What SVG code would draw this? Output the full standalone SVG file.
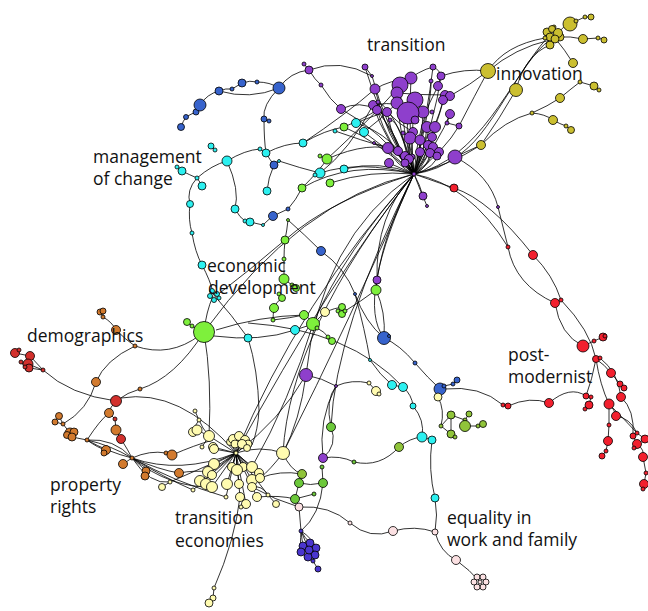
<svg xmlns="http://www.w3.org/2000/svg" width="648" height="611" viewBox="0 0 648 611">
<style>
.e{fill:none;stroke:#000;stroke-width:0.8}
circle{stroke:#000;stroke-width:0.8}
.p{fill:#8e3fcc}.g{fill:#cbbf30}.r{fill:#f2202e}.dr{fill:#d2302c}.b{fill:#3763cc}.c{fill:#2cf0f0}
.lg{fill:#7ef03c}.mg{fill:#6cc83a}.og{fill:#90c43a}.o{fill:#d27a2e}.y{fill:#fffbb0}.pk{fill:#fbe0e2}.ind{fill:#4a35cf}
text{font-family:"Open Sans","Noto Sans","Liberation Sans",sans-serif;font-size:17.5px;fill:#111}
</style>
<rect width="648" height="611" fill="#fff"/>
<g id="connectors">
<path class="e" d="M181 127 Q183 121 186 117 Q191 114 196 112 L200 105 Q207 94 219 91 Q226 88 232 89 Q237 86 242 83 Q250 80 257 82 Q270 82 279 88 M219 91 Q250 100 279 88 M279 88 Q290 72 309 70 L304 64 M309 70 Q340 58 372 76 M309 70 Q315 80 321 85 Q330 100 341 109 M341 109 Q360 100 377 110 M341 109 Q380 130 414 174 M279 88 Q262 105 264 119 Q264 140 266 153 M264 119 L269 121 M211 146 L215 150 M177 167 L182 171 Q190 175 197 178 Q200 182 202 186 M197 178 Q186 190 190 204 Q188 220 192 233 Q195 252 202 265 M197 178 Q212 165 227 161 Q245 150 260 149 L266 153 Q285 143 303 143 Q325 130 344 127 M266 153 Q270 160 274 165 L279 161 M274 165 Q268 178 267 191 M279 161 Q300 168 320 173 M227 161 Q240 190 235 209 Q240 218 245 221 L250 222 L263 225 Q268 220 273 216 L288 209 Q296 200 302 188 Q320 170 327 159 L320 156 M288 220 Q287 230 285 240 Q284 250 284 259 Q284 270 284 279 L292 285 L296 288 M279 294 L282 298 Q276 302 274 308 Q273 315 273 320 Q290 318 304 315 Q310 318 313 324 L317 328 M288 220 Q305 235 321 251 Q345 268 355 294 Q365 322 384 338 L389 336 M384 338 Q400 345 415 363 Q428 378 440 389 L444 386 L453 384 L457 380 M444 389 Q480 385 503 405 L508 406 Q530 396 549 403 Q570 385 586 396"/>
<path class="e" d="M344 127 Q365 118 377 110 M356 123 Q375 115 387 112 M364 132 Q380 120 397 103 M335 131 Q360 140 388 148 M327 159 Q370 140 398 151 M320 173 Q360 160 414 174 M344 169 Q380 160 414 174 M330 183 Q370 170 414 174 M302 188 Q350 160 414 174 M327 159 Q380 110 400 85 M344 127 Q375 140 414 174 M303 143 Q345 115 375 89 M374 143 L388 148 M389 163 L414 174 M364 132 Q390 150 414 174 M356 123 Q395 135 414 174 M320 173 Q350 150 373 105"/>
<path class="e" d="M414 174 Q402 130 400 85 M414 174 Q408 128 411 78 M414 174 Q410 140 415 100 M414 174 Q405 145 408 113 M414 174 Q398 135 397 93 M414 174 Q385 135 375 89 M414 174 Q393 145 387 112 M414 174 Q388 145 377 110 M414 174 Q384 140 373 105 M414 174 Q422 145 423 112 M414 174 Q425 150 427 127 M414 174 Q430 150 435 127 M414 174 Q408 155 410 138 M414 174 Q420 160 420 140 M414 174 Q430 160 432 137 M414 174 Q425 162 428 145 M414 174 Q432 165 433 147 M414 174 Q395 165 388 148 M414 174 Q402 165 398 151 M414 174 Q420 165 420 152 M414 174 Q428 168 430 153 M414 174 Q436 168 439 152 M414 174 Q440 170 455 157 M414 174 Q405 168 405 156 M414 174 Q412 166 409 159 M414 174 Q435 130 445 95 M414 174 Q440 140 450 114 M414 174 Q445 150 459 126 M414 174 Q435 120 441 76 M414 174 Q428 110 433 67 M414 174 Q380 120 365 67 M414 174 Q385 125 372 76 M414 174 Q420 185 423 196 M414 174 Q445 185 454 188 M414 174 Q420 190 427 206 M414 174 Q418 120 438 86 M414 174 Q400 120 390 120 M414 174 Q396 110 378 102 M414 174 Q410 135 403 133 M414 174 Q440 120 443 100 M414 174 Q432 100 431 81 M375 89 Q390 80 411 78 M400 85 Q420 70 433 67 M397 93 Q420 95 445 95 M387 112 Q400 125 413 132 M373 105 Q400 100 423 112 M433 67 Q440 70 441 76 L438 86 M445 95 L450 96 M450 114 L447 123 L459 126 M365 67 L372 76 M377 110 Q400 140 405 163 M388 148 Q400 160 412 157"/>
<path class="e" d="M441 76 Q465 68 488 71 M450 96 Q470 85 488 71 M459 126 Q475 95 488 71 M455 157 Q470 150 481 145 M414 174 Q450 165 481 145 M481 145 Q500 118 516 90 M481 145 Q505 120 532 113 M488 71 Q505 45 545 38 M488 71 Q515 48 550 40 M414 174 C480 160 510 80 547 38 M455 157 C490 140 520 60 550 40 M516 90 Q525 55 550 45 M532 113 Q548 106 560 98 Q572 88 580 82 L594 86 L599 90 M532 113 Q545 114 553 120 Q560 124 566 126 L571 130 M555 38 Q565 50 573 63 M558 37 Q570 36 583 39 L598 38 L604 40 M558 33 Q563 26 570 24 L576 21 L585 17 L591 17"/>
<path class="e" d="M455 157 Q490 175 498 207 M414 174 Q470 185 508 247 M454 188 Q490 200 533 255 M498 207 L508 247 Q515 285 555 303 M533 255 Q553 275 561 300 M555 303 Q560 335 583 346 M561 300 Q590 330 596 359 M583 346 L594 341 L603 337 L605 336 M596 359 L600 358 M596 359 Q605 365 611 373 L620 384 L624 388 M600 358 Q618 372 621 397 M596 359 Q592 380 586 396 M596 359 Q600 385 609 404 M586 396 L591 397 L589 405 L585 409 M609 404 Q615 410 616 416 Q630 418 637 433 L645 439 M621 397 Q635 410 633 436 L637 444 L634 448 M637 444 Q645 450 643 457 L646 473 L644 484 L643 488 M609 404 L609 425 L608 441 L606 451 L602 456 M609 404 Q625 420 637 433"/>
<path class="e" d="M376 290 L377 280 M376 290 Q360 302 345 311 M342 307 L338 311 L342 314 L345 311 M325 312 Q335 308 342 307 M313 324 L325 312 M328 337 L332 341 M317 328 Q325 332 328 337 M376 290 Q386 312 384 338 M248 338 Q258 370 259 410 Q258 430 252 445 M213 294 Q232 315 248 338 M216 330 Q260 316 304 315 M214 336 Q260 342 295 330 L313 324 M248 323 Q350 330 403 387 M355 294 Q365 330 370 360 Q380 375 392 385 L403 387 Q412 395 413 406 M369 383 L376 391 L379 394 M336 386 Q352 379 369 383 M306 375 Q322 378 336 386 M336 386 Q318 420 323 458 M331 427 Q338 445 323 458 M331 427 Q325 400 336 386 M323 458 Q340 455 354 462 Q380 468 399 447 Q410 438 422 437 M413 406 Q425 420 422 437 L432 440 M432 440 Q428 470 435 498 Q438 515 435 532 Q440 552 456 560 Q470 570 480 582 M299 507 Q330 505 350 523 Q370 540 393 531 Q415 525 435 532 M438 397 Q445 410 441 426 L451 415 L465 420 L469 414 M451 415 L451 434 L455 437 M465 426 L478 426 L483 424 M441 426 L451 434 M465 420 L465 426"/>
<path class="e" d="M414 174 Q335 330 331 427 M414 174 Q380 240 376 290 M414 174 Q375 215 377 280 M414 174 Q355 300 384 338 M414 174 Q330 200 285 240 M414 174 Q300 200 204 332 M414 174 Q320 240 306 375 M414 174 Q330 280 236 453 M414 174 Q300 300 236 453 M414 174 Q345 250 313 324 M414 174 Q290 330 283 453 M414 174 Q350 320 283 453 M306 375 Q280 420 236 453 M306 375 Q300 420 283 453 M313 324 Q290 400 252 467 M204 332 Q212 380 209 436 M204 332 Q206 312 213 296 M202 265 Q210 280 213 292 M187 322 L192 326 L204 332 M135 346 Q170 358 200 335 M116 401 Q128 392 140 389 Q175 378 204 332 M121 398 Q180 388 236 453 M195 411 L199 420 Q202 428 209 436 M216 296 Q250 270 285 240"/>
<path class="e" d="M100 312 L103 311 L103 317 Q112 322 116 330 Q126 340 135 346 Q105 360 96 382 Q88 410 63 424 M43 370 Q70 395 116 401 M15 353 L19 350 M15 353 L30 356 L28 364 L43 370 M21 362 L25 367 L29 368 L43 370 M30 356 L43 370 M116 401 Q110 407 109 413 L115 419 L116 430 L121 439 Q128 450 132 458 M59 416 L63 424 L70 433 M55 422 L63 424 M72 437 L87 440 Q110 445 132 458 M87 440 Q108 452 132 458 M87 440 Q114 438 132 458 M87 440 Q100 420 109 413 M87 440 Q98 448 106 450 M132 458 Q150 450 166 453 L172 455 Q195 445 213 440 M123 464 L132 458 Q140 465 146 471 M132 458 Q170 488 212 487 M132 458 Q175 482 226 497 M132 458 Q165 478 193 490 M132 458 Q180 475 236 453 M132 458 Q160 470 179 473 Q195 470 208 472 M170 482 L162 487 M132 458 Q150 485 170 482"/>
<path class="e" d="M236 453 L233 439 M236 453 L239 436 M236 453 L245 440 M236 453 L248 444 M236 453 L230 442 M236 453 L209 436 M236 453 L213 447 M236 453 L214 449 M236 453 L214 464 M236 453 L208 472 M236 453 L237 470 M236 453 L232 467 M236 453 L243 467 M236 453 L252 467 M236 453 L259 473 M236 453 L200 481 M236 453 L206 484 M236 453 L212 487 M236 453 L227 484 M236 453 L239 484 M236 453 L252 480 M236 453 L260 478 M236 453 L240 497 M236 453 L257 497 M236 453 L246 504 M236 453 L226 497 M236 453 L193 490 M236 453 L268 495 M236 453 L170 482 M236 453 Q260 445 283 453 M193 432 L197 430 L209 436 M199 420 Q195 425 193 432 M202 447 L209 436 M283 453 Q270 470 260 478 M276 504 L268 495 Q262 485 252 487 M260 478 Q280 470 302 474 M257 497 Q280 495 295 499 M252 487 Q275 500 299 507 M240 497 Q235 540 214 588 L213 598 M302 474 L299 483 Q310 486 323 483 L322 467 M299 483 L295 499 L314 494 M323 483 Q320 515 301 531 M299 507 L301 531 M301 531 Q302 540 303 546 M301 531 Q305 538 310 543 M301 531 Q312 538 316 548 M301 531 L309 550 M301 531 Q300 545 301 552 M315 555 L313 561 L318 569 M283 453 Q290 470 302 474"/>
</g>
<g id="n-purple">
<circle class="p" cx="304" cy="64" r="2"/><circle class="p" cx="309" cy="70" r="4"/><circle class="p" cx="321" cy="85" r="2"/><circle class="p" cx="341" cy="109" r="4.5"/><circle class="p" cx="365" cy="67" r="3"/><circle class="p" cx="372" cy="76" r="1.5"/><circle class="p" cx="433" cy="67" r="3"/><circle class="p" cx="441" cy="76" r="4"/><circle class="p" cx="411" cy="78" r="6"/><circle class="p" cx="400" cy="85" r="8"/><circle class="p" cx="375" cy="89" r="5"/><circle class="p" cx="431" cy="81" r="2"/><circle class="p" cx="438" cy="86" r="4.5"/><circle class="p" cx="397" cy="93" r="6"/><circle class="p" cx="445" cy="95" r="4.5"/><circle class="p" cx="450" cy="96" r="4.5"/><circle class="p" cx="443" cy="100" r="4.5"/><circle class="p" cx="415" cy="100" r="8"/><circle class="p" cx="397" cy="103" r="6"/><circle class="p" cx="373" cy="105" r="4.5"/><circle class="p" cx="378" cy="102" r="2"/><circle class="p" cx="377" cy="110" r="4.5"/><circle class="p" cx="387" cy="112" r="4.5"/><circle class="p" cx="423" cy="112" r="6"/><circle class="p" cx="432" cy="112" r="2"/><circle class="p" cx="450" cy="114" r="4.5"/><circle class="p" cx="408" cy="113" r="11"/><circle class="p" cx="415" cy="120" r="4"/><circle class="p" cx="390" cy="120" r="2"/><circle class="p" cx="447" cy="123" r="2"/><circle class="p" cx="459" cy="126" r="3"/><circle class="p" cx="427" cy="127" r="5.5"/><circle class="p" cx="435" cy="127" r="5.5"/><circle class="p" cx="413" cy="132" r="4.5"/><circle class="p" cx="403" cy="133" r="2"/><circle class="p" cx="410" cy="138" r="6"/><circle class="p" cx="420" cy="140" r="5"/><circle class="p" cx="432" cy="137" r="4.5"/><circle class="p" cx="374" cy="143" r="1.5"/><circle class="p" cx="428" cy="145" r="4.5"/><circle class="p" cx="433" cy="147" r="4.5"/><circle class="p" cx="388" cy="148" r="5.5"/><circle class="p" cx="398" cy="151" r="4.5"/><circle class="p" cx="420" cy="152" r="4.5"/><circle class="p" cx="430" cy="153" r="4.5"/><circle class="p" cx="439" cy="152" r="4.5"/><circle class="p" cx="437" cy="156" r="4"/><circle class="p" cx="455" cy="157" r="7"/><circle class="p" cx="405" cy="156" r="4.5"/><circle class="p" cx="412" cy="157" r="3"/><circle class="p" cx="409" cy="159" r="4.5"/><circle class="p" cx="405" cy="163" r="4"/><circle class="p" cx="389" cy="163" r="4.5"/><circle class="p" cx="414" cy="174" r="2"/><circle class="p" cx="423" cy="196" r="4"/><circle class="p" cx="427" cy="206" r="1.5"/><circle class="p" cx="498" cy="207" r="1.5"/><circle class="p" cx="377" cy="280" r="4"/><circle class="p" cx="306" cy="375" r="6.5"/><circle class="p" cx="336" cy="386" r="1.5"/><circle class="p" cx="323" cy="458" r="4.5"/>
</g>
<g id="n-gold">
<circle class="g" cx="488" cy="71" r="7.5"/><circle class="g" cx="516" cy="90" r="6.5"/><circle class="g" cx="481" cy="145" r="4.5"/><circle class="g" cx="532" cy="113" r="2"/><circle class="g" cx="560" cy="98" r="4.5"/><circle class="g" cx="553" cy="120" r="4.5"/><circle class="g" cx="566" cy="126" r="2"/><circle class="g" cx="571" cy="130" r="3.5"/><circle class="g" cx="580" cy="82" r="2"/><circle class="g" cx="594" cy="86" r="4"/><circle class="g" cx="599" cy="90" r="2"/><circle class="g" cx="573" cy="63" r="4.5"/><circle class="g" cx="583" cy="39" r="4.5"/><circle class="g" cx="598" cy="38" r="2"/><circle class="g" cx="604" cy="40" r="3"/><circle class="g" cx="570" cy="24" r="7"/><circle class="g" cx="576" cy="21" r="2"/><circle class="g" cx="585" cy="17" r="2"/><circle class="g" cx="591" cy="17" r="3"/><circle class="g" cx="554" cy="27" r="2"/><circle class="g" cx="547" cy="32" r="4"/><circle class="g" cx="552" cy="29" r="3.5"/><circle class="g" cx="560" cy="37" r="4"/><circle class="g" cx="558" cy="33" r="4.5"/><circle class="g" cx="550" cy="45" r="4"/><circle class="g" cx="550" cy="37" r="4"/><circle class="g" cx="555" cy="39" r="4"/><circle class="g" cx="545" cy="38" r="2"/>
</g>
<g id="n-red">
<circle class="r" cx="454" cy="188" r="4"/><circle class="r" cx="508" cy="247" r="2"/><circle class="r" cx="533" cy="255" r="4.5"/><circle class="r" cx="555" cy="303" r="4.5"/><circle class="r" cx="561" cy="300" r="2"/><circle class="r" cx="583" cy="346" r="6"/><circle class="r" cx="594" cy="341" r="2"/><circle class="r" cx="603" cy="337" r="4"/><circle class="r" cx="605" cy="336" r="2"/><circle class="r" cx="596" cy="359" r="3.5"/><circle class="r" cx="600" cy="358" r="2"/><circle class="r" cx="611" cy="373" r="4.5"/><circle class="r" cx="620" cy="384" r="3"/><circle class="r" cx="624" cy="388" r="3"/><circle class="r" cx="621" cy="397" r="4.5"/><circle class="r" cx="586" cy="396" r="3"/><circle class="r" cx="591" cy="397" r="2"/><circle class="r" cx="589" cy="405" r="4"/><circle class="r" cx="585" cy="409" r="2"/><circle class="r" cx="609" cy="404" r="5"/><circle class="r" cx="616" cy="416" r="4.5"/><circle class="r" cx="609" cy="425" r="2"/><circle class="r" cx="608" cy="441" r="4.5"/><circle class="r" cx="606" cy="451" r="2"/><circle class="r" cx="602" cy="456" r="3"/><circle class="r" cx="633" cy="436" r="3"/><circle class="r" cx="637" cy="433" r="2"/><circle class="r" cx="645" cy="439" r="4"/><circle class="r" cx="637" cy="444" r="4.5"/><circle class="r" cx="634" cy="448" r="2"/><circle class="r" cx="643" cy="457" r="4.5"/><circle class="r" cx="646" cy="473" r="2"/><circle class="r" cx="644" cy="484" r="4.5"/><circle class="r" cx="643" cy="489" r="2"/><circle class="r" cx="549" cy="403" r="4.5"/><circle class="r" cx="503" cy="405" r="2"/><circle class="r" cx="508" cy="406" r="3"/>
</g>
<g id="n-blue">
<circle class="b" cx="181" cy="127" r="3.5"/><circle class="b" cx="186" cy="117" r="2.5"/><circle class="b" cx="196" cy="112" r="3"/><circle class="b" cx="200" cy="105" r="6"/><circle class="b" cx="219" cy="91" r="4"/><circle class="b" cx="232" cy="89" r="2"/><circle class="b" cx="242" cy="83" r="4"/><circle class="b" cx="257" cy="82" r="2"/><circle class="b" cx="279" cy="88" r="6"/><circle class="b" cx="264" cy="119" r="3"/><circle class="b" cx="269" cy="121" r="2"/><circle class="b" cx="274" cy="165" r="4"/><circle class="b" cx="273" cy="216" r="4.5"/><circle class="b" cx="288" cy="209" r="2"/><circle class="b" cx="321" cy="251" r="4.5"/><circle class="b" cx="355" cy="294" r="1.5"/><circle class="b" cx="384" cy="338" r="6.5"/><circle class="b" cx="389" cy="336" r="1.5"/><circle class="b" cx="415" cy="363" r="2"/><circle class="b" cx="440" cy="389" r="6"/><circle class="b" cx="444" cy="386" r="2"/><circle class="b" cx="453" cy="384" r="2"/><circle class="b" cx="457" cy="380" r="3"/>
</g>
<g id="n-cyan">
<circle class="c" cx="211" cy="146" r="3"/><circle class="c" cx="215" cy="150" r="2"/><circle class="c" cx="177" cy="167" r="2"/><circle class="c" cx="182" cy="171" r="4"/><circle class="c" cx="197" cy="178" r="2"/><circle class="c" cx="202" cy="186" r="4"/><circle class="c" cx="190" cy="204" r="3.5"/><circle class="c" cx="192" cy="233" r="2"/><circle class="c" cx="202" cy="265" r="4"/><circle class="c" cx="212" cy="291" r="2.5"/><circle class="c" cx="217" cy="294" r="2.5"/><circle class="c" cx="210" cy="296" r="2.5"/><circle class="c" cx="214" cy="300" r="2.5"/><circle class="c" cx="219" cy="298" r="2"/><circle class="c" cx="227" cy="161" r="5"/><circle class="c" cx="260" cy="149" r="2"/><circle class="c" cx="266" cy="153" r="4"/><circle class="c" cx="279" cy="161" r="1.5"/><circle class="c" cx="303" cy="143" r="4"/><circle class="c" cx="267" cy="191" r="4"/><circle class="c" cx="235" cy="209" r="4"/><circle class="c" cx="245" cy="221" r="2"/><circle class="c" cx="250" cy="222" r="4"/><circle class="c" cx="263" cy="225" r="1.5"/><circle class="c" cx="335" cy="131" r="2"/><circle class="c" cx="356" cy="123" r="4.5"/><circle class="c" cx="364" cy="132" r="4.5"/><circle class="c" cx="320" cy="173" r="5"/><circle class="c" cx="315" cy="175" r="2"/><circle class="c" cx="344" cy="169" r="4"/><circle class="c" cx="295" cy="330" r="4.5"/><circle class="c" cx="248" cy="338" r="4"/><circle class="c" cx="370" cy="360" r="1.5"/><circle class="c" cx="392" cy="385" r="4.5"/><circle class="c" cx="403" cy="387" r="4.5"/><circle class="c" cx="413" cy="406" r="3"/><circle class="c" cx="422" cy="437" r="5"/><circle class="c" cx="432" cy="440" r="4"/><circle class="c" cx="435" cy="498" r="4"/>
</g>
<g id="n-green">
<circle class="lg" cx="344" cy="127" r="4"/><circle class="lg" cx="327" cy="159" r="5"/><circle class="lg" cx="320" cy="156" r="2"/><circle class="lg" cx="330" cy="183" r="4"/><circle class="lg" cx="302" cy="188" r="4"/><circle class="lg" cx="288" cy="220" r="1.5"/><circle class="lg" cx="285" cy="240" r="4"/><circle class="lg" cx="284" cy="259" r="2"/><circle class="lg" cx="284" cy="279" r="5"/><circle class="lg" cx="292" cy="285" r="2"/><circle class="lg" cx="296" cy="288" r="3.5"/><circle class="lg" cx="279" cy="294" r="2"/><circle class="lg" cx="282" cy="298" r="3.5"/><circle class="lg" cx="274" cy="308" r="4.5"/><circle class="lg" cx="273" cy="320" r="2"/><circle class="lg" cx="304" cy="315" r="4.5"/><circle class="lg" cx="313" cy="324" r="6.5"/><circle class="lg" cx="317" cy="328" r="2"/><circle class="lg" cx="342" cy="307" r="3.5"/><circle class="lg" cx="338" cy="311" r="2"/><circle class="lg" cx="342" cy="314" r="3.5"/><circle class="lg" cx="345" cy="311" r="2"/><circle class="lg" cx="328" cy="337" r="2"/><circle class="lg" cx="332" cy="341" r="3.5"/><circle class="lg" cx="376" cy="290" r="5"/><circle class="lg" cx="204" cy="332" r="10.5"/><circle class="lg" cx="187" cy="322" r="3.5"/><circle class="lg" cx="192" cy="326" r="2"/>
<circle class="mg" cx="331" cy="427" r="4.5"/><circle class="mg" cx="354" cy="462" r="2"/><circle class="og" cx="302" cy="474" r="4.5"/><circle class="mg" cx="299" cy="483" r="4.5"/><circle class="mg" cx="322" cy="467" r="2"/><circle class="mg" cx="323" cy="483" r="4.5"/><circle class="mg" cx="295" cy="499" r="4.5"/><circle class="mg" cx="314" cy="494" r="2"/>
<circle class="og" cx="399" cy="447" r="4.5"/><circle class="og" cx="451" cy="415" r="4"/><circle class="og" cx="469" cy="414" r="3"/><circle class="og" cx="465" cy="420" r="2"/><circle class="og" cx="465" cy="426" r="5.5"/><circle class="og" cx="478" cy="426" r="2"/><circle class="og" cx="483" cy="424" r="3.5"/><circle class="og" cx="441" cy="426" r="2"/><circle class="og" cx="451" cy="434" r="4"/><circle class="og" cx="455" cy="437" r="2"/>
</g>
<g id="n-orange">
<circle class="o" cx="100" cy="312" r="3"/><circle class="o" cx="103" cy="311" r="3"/><circle class="o" cx="103" cy="317" r="2"/><circle class="o" cx="116" cy="330" r="4.5"/><circle class="o" cx="135" cy="346" r="2"/><circle class="o" cx="96" cy="382" r="4.5"/><circle class="o" cx="140" cy="389" r="2"/><circle class="o" cx="59" cy="416" r="3.5"/><circle class="o" cx="55" cy="422" r="3"/><circle class="o" cx="63" cy="424" r="2"/><circle class="o" cx="70" cy="433" r="5"/><circle class="o" cx="74" cy="432" r="4"/><circle class="o" cx="67" cy="435" r="3.5"/><circle class="o" cx="72" cy="437" r="4"/><circle class="o" cx="87" cy="440" r="2"/><circle class="o" cx="109" cy="413" r="4.5"/><circle class="o" cx="116" cy="430" r="5"/><circle class="o" cx="106" cy="450" r="4.5"/><circle class="o" cx="104" cy="453" r="3"/><circle class="o" cx="123" cy="464" r="4.5"/><circle class="o" cx="132" cy="458" r="2"/><circle class="o" cx="146" cy="471" r="4"/><circle class="o" cx="145" cy="476" r="4"/><circle class="o" cx="166" cy="453" r="2"/><circle class="o" cx="172" cy="455" r="5"/><circle class="o" cx="179" cy="473" r="4.5"/>
</g>
<g id="n-darkred">
<circle class="dr" cx="15" cy="353" r="4.5"/><circle class="dr" cx="19" cy="350" r="2"/><circle class="dr" cx="30" cy="356" r="4.5"/><circle class="dr" cx="28" cy="364" r="5"/><circle class="dr" cx="29" cy="368" r="4"/><circle class="dr" cx="21" cy="362" r="2"/><circle class="dr" cx="25" cy="367" r="2"/><circle class="dr" cx="43" cy="370" r="2"/><circle class="dr" cx="116" cy="401" r="5.5"/><circle class="dr" cx="115" cy="419" r="2"/><circle class="dr" cx="121" cy="439" r="4.5"/>
</g>
<g id="n-paleyellow">
<circle class="y" cx="195" cy="411" r="2"/><circle class="y" cx="199" cy="420" r="2"/><circle class="y" cx="193" cy="432" r="4.5"/><circle class="y" cx="197" cy="430" r="5"/><circle class="y" cx="209" cy="436" r="5.5"/><circle class="y" cx="213" cy="447" r="4.5"/><circle class="y" cx="202" cy="447" r="2"/><circle class="y" cx="214" cy="449" r="4.5"/><circle class="y" cx="230" cy="442" r="3.5"/><circle class="y" cx="233" cy="439" r="4.5"/><circle class="y" cx="239" cy="436" r="4.5"/><circle class="y" cx="245" cy="440" r="4.5"/><circle class="y" cx="248" cy="444" r="4"/><circle class="y" cx="235" cy="444" r="4"/><circle class="y" cx="242" cy="444" r="4.5"/><circle class="y" cx="247" cy="448" r="3.5"/><circle class="y" cx="236" cy="453" r="2"/><circle class="y" cx="283" cy="453" r="6.5"/><circle class="y" cx="214" cy="464" r="5.5"/><circle class="y" cx="208" cy="472" r="5.5"/><circle class="y" cx="212" cy="475" r="4.5"/><circle class="y" cx="232" cy="467" r="4.5"/><circle class="y" cx="243" cy="467" r="4.5"/><circle class="y" cx="237" cy="470" r="5.5"/><circle class="y" cx="252" cy="467" r="5.5"/><circle class="y" cx="259" cy="473" r="4.5"/><circle class="y" cx="200" cy="481" r="5.5"/><circle class="y" cx="206" cy="484" r="5.5"/><circle class="y" cx="212" cy="487" r="5.5"/><circle class="y" cx="227" cy="484" r="5.5"/><circle class="y" cx="239" cy="484" r="4.5"/><circle class="y" cx="252" cy="480" r="5.5"/><circle class="y" cx="252" cy="487" r="4.5"/><circle class="y" cx="260" cy="478" r="4.5"/><circle class="y" cx="193" cy="490" r="2"/><circle class="y" cx="226" cy="497" r="2"/><circle class="y" cx="240" cy="497" r="4.5"/><circle class="y" cx="257" cy="497" r="4.5"/><circle class="y" cx="246" cy="504" r="4.5"/><circle class="y" cx="241" cy="507" r="2"/><circle class="y" cx="268" cy="495" r="2"/><circle class="y" cx="276" cy="504" r="3.5"/><circle class="y" cx="170" cy="482" r="2"/><circle class="y" cx="162" cy="487" r="3.5"/><circle class="y" cx="325" cy="312" r="4.5"/><circle class="y" cx="369" cy="383" r="2"/><circle class="y" cx="376" cy="391" r="4.5"/><circle class="y" cx="379" cy="394" r="2"/><circle class="y" cx="438" cy="397" r="4"/><circle class="y" cx="214" cy="588" r="2"/><circle class="y" cx="213" cy="598" r="3"/><circle class="y" cx="209" cy="603" r="4"/>
</g>
<g id="n-pink">
<circle class="pk" cx="299" cy="507" r="4"/><circle class="pk" cx="350" cy="523" r="2"/><circle class="pk" cx="393" cy="531" r="4.5"/><circle class="pk" cx="435" cy="532" r="3"/><circle class="pk" cx="456" cy="560" r="4.5"/>
<circle class="pk" cx="486" cy="582" r="3"/><circle class="pk" cx="483" cy="587" r="3"/><circle class="pk" cx="477" cy="587" r="3"/><circle class="pk" cx="474" cy="582" r="3"/><circle class="pk" cx="477" cy="577" r="3"/><circle class="pk" cx="483" cy="577" r="3"/><circle class="pk" cx="480" cy="582" r="2"/>
</g>
<g id="n-indigo">
<circle class="ind" cx="301" cy="531" r="2"/><circle class="ind" cx="303" cy="546" r="4"/><circle class="ind" cx="310" cy="543" r="4"/><circle class="ind" cx="316" cy="548" r="4"/><circle class="ind" cx="315" cy="555" r="4"/><circle class="ind" cx="308" cy="557" r="4"/><circle class="ind" cx="301" cy="552" r="4"/><circle class="ind" cx="309" cy="550" r="4"/><circle class="ind" cx="313" cy="561" r="2"/><circle class="ind" cx="318" cy="569" r="3"/>
</g>
<g id="labels">
<text x="367" y="51">transition</text>
<text x="496" y="80">innovation</text>
<text x="93" y="163">management</text>
<text x="93" y="185">of change</text>
<text x="207" y="272">economic</text>
<text x="208" y="294">development</text>
<text x="27" y="342">demographics</text>
<text x="508" y="361">post-</text>
<text x="508" y="383">modernist</text>
<text x="50" y="491">property</text>
<text x="50" y="513">rights</text>
<text x="175" y="524">transition</text>
<text x="175" y="547">economies</text>
<text x="447" y="524">equality in</text>
<text x="447" y="546">work and family</text>
</g>
</svg>
